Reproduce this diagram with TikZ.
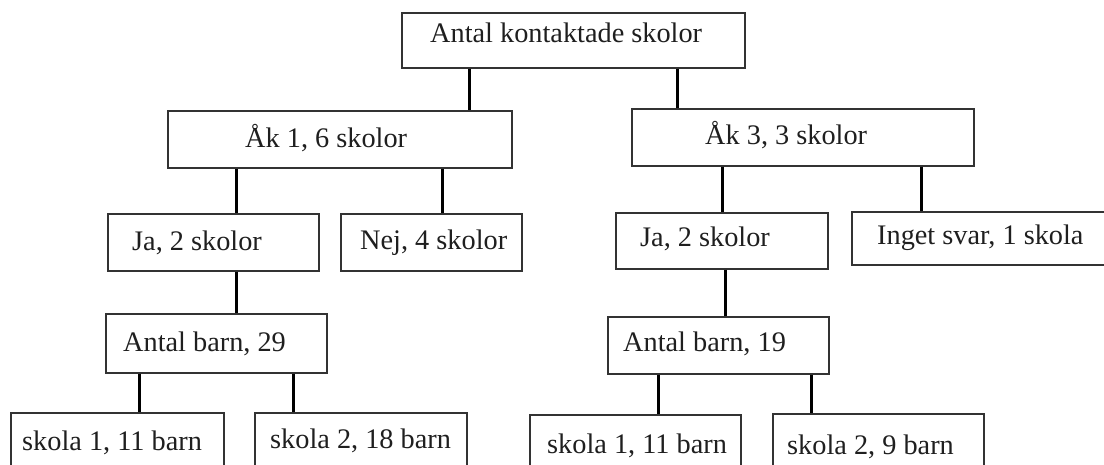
\documentclass[tikz,border=0pt]{standalone}
\usepackage{fontspec}
\setmainfont{Liberation Serif}
\begin{document}
\begin{tikzpicture}[x=1pt,y=-1pt,
  box/.style={draw=black!80, line width=1.6pt, fill=white, inner sep=0pt, anchor=north west},
  txt/.style={anchor=base west, inner sep=0pt, text=black!88, font=\fontsize{28.3}{34}\selectfont},
  conn/.style={draw=black, line width=3pt}]
\useasboundingbox (0,0) rectangle (1104,465);
\clip (0,0) rectangle (1104,465);
% boxes
\node[box, minimum width=343pt, minimum height=55pt] (top) at (401,12) {};
\node[box, minimum width=344pt, minimum height=57pt] (ak1) at (167,110) {};
\node[box, minimum width=342pt, minimum height=57pt] (ak3) at (631,108) {};
\node[box, minimum width=211pt, minimum height=57pt] (jaL) at (107,213) {};
\node[box, minimum width=181pt, minimum height=57pt] (nej) at (340,213) {};
\node[box, minimum width=212pt, minimum height=56pt] (jaR) at (615,212) {};
\node[box, minimum width=259pt, minimum height=53pt] (inget) at (851,211) {};
\node[box, minimum width=221pt, minimum height=59pt] (ab29) at (105,313) {};
\node[box, minimum width=221pt, minimum height=57pt] (ab19) at (607,316) {};
\node[box, minimum width=213pt, minimum height=63pt] (s1L) at (10,412) {};
\node[box, minimum width=212pt, minimum height=63pt] (s2L) at (254,412) {};
\node[box, minimum width=211pt, minimum height=61pt] (s1R) at (529,414) {};
\node[box, minimum width=211pt, minimum height=62pt] (s2R) at (772,413) {};
% texts
\node[txt] (ttop) at (430,43) {Antal kontaktade skolor};
\node[txt] (tak1) at (245,148) {Åk 1, 6 skolor};
\node[txt] (tak3) at (705,145) {Åk 3, 3 skolor};
\node[txt] (tjaL) at (132,251) {Ja, 2 skolor};
\node[txt] (tnej) at (360,250) {Nej, 4 skolor};
\node[txt] (tjaR) at (640,247) {Ja, 2 skolor};
\node[txt] (tinget) at (877,245) {Inget svar, 1 skola};
\node[txt] (tab29) at (123,352) {Antal barn, 29};
\node[txt] (tab19) at (623,352) {Antal barn, 19};
\node[txt] (ts1L) at (22,450) {skola 1, 11 barn};
\node[txt] (ts2L) at (270,448) {skola 2, 18 barn};
\node[txt] (ts1R) at (547,453) {skola 1, 11 barn};
\node[txt] (ts2R) at (787,454) {skola 2, 9 barn};
% connector x positions
\coordinate (x1) at (469,0);
\coordinate (x2) at (677,0);
\coordinate (x3) at (236,0);
\coordinate (x4) at (442,0);
\coordinate (x5) at (722,0);
\coordinate (x6) at (921,0);
\coordinate (x7) at (725,0);
\coordinate (x8) at (139,0);
\coordinate (x9) at (293,0);
\coordinate (x10) at (658,0);
\coordinate (x11) at (811,0);
% connectors
\draw[conn] (x1 |- top.south) -- (x1 |- ak1.north);
\draw[conn] (x2 |- top.south) -- (x2 |- ak3.north);
\draw[conn] (x3 |- ak1.south) -- (x3 |- jaL.north);
\draw[conn] (x4 |- ak1.south) -- (x4 |- nej.north);
\draw[conn] (x5 |- ak3.south) -- (x5 |- jaR.north);
\draw[conn] (x6 |- ak3.south) -- (x6 |- inget.north);
\draw[conn] (x3 |- jaL.south) -- (x3 |- ab29.north);
\draw[conn] (x7 |- jaR.south) -- (x7 |- ab19.north);
\draw[conn] (x8 |- ab29.south) -- (x8 |- s1L.north);
\draw[conn] (x9 |- ab29.south) -- (x9 |- s2L.north);
\draw[conn] (x10 |- ab19.south) -- (x10 |- s1R.north);
\draw[conn] (x11 |- ab19.south) -- (x11 |- s2R.north);
\end{tikzpicture}
\end{document}
